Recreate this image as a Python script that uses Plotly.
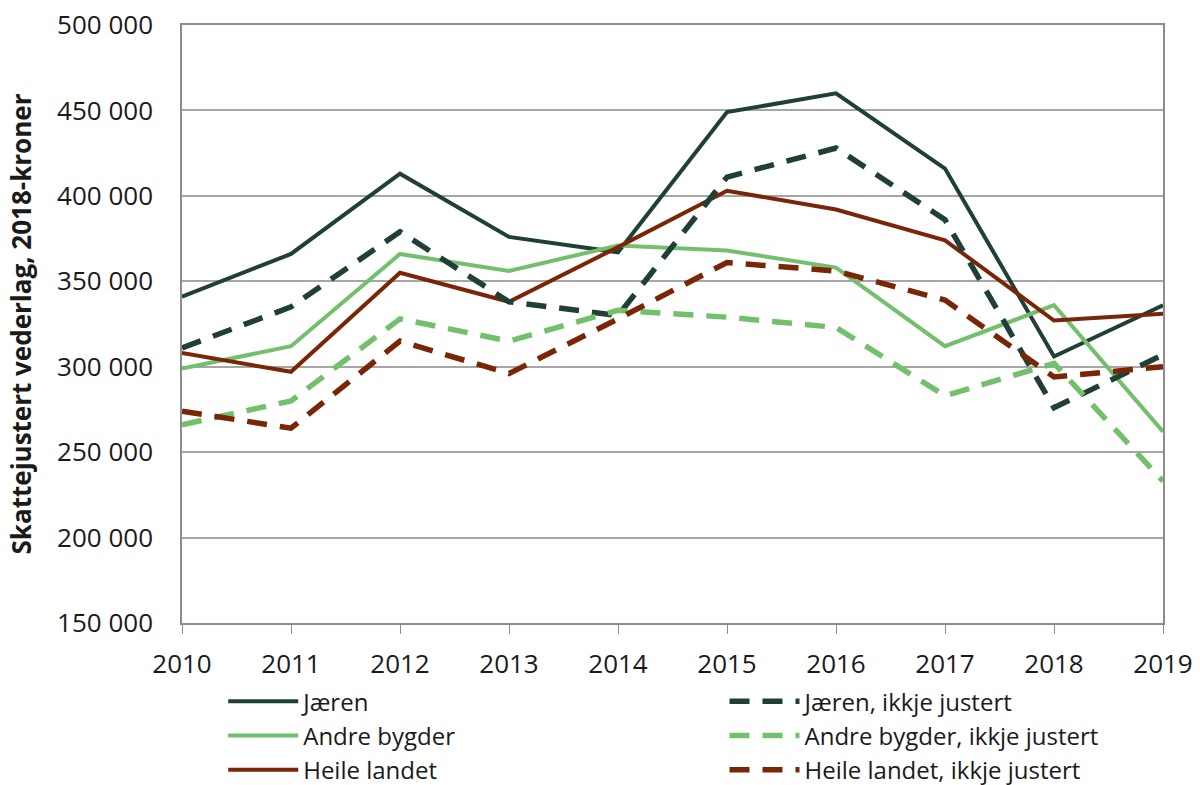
import plotly.graph_objects as go

years = [2010, 2011, 2012, 2013, 2014, 2015, 2016, 2017, 2018, 2019]

jaeren = [341000, 366000, 413000, 376000, 367000, 449000, 460000, 416000, 306000, 336000]
jaeren_ikkje = [311000, 335000, 379000, 338000, 330000, 411000, 428000, 386000, 276000, 307000]
andre = [299000, 312000, 366000, 356000, 371000, 368000, 358000, 312000, 336000, 262000]
andre_ikkje = [266000, 280000, 328000, 315000, 333000, 329000, 323000, 283000, 302000, 233000]
heile = [308000, 297000, 355000, 338000, 370000, 403000, 392000, 374000, 327000, 331000]
heile_ikkje = [274000, 264000, 315000, 296000, 328000, 361000, 356000, 339000, 294000, 300000]

names = ["Jæren", "Jæren, ikkje justert", "Andre bygder", "Andre bygder, ikkje justert",
         "Heile landet", "Heile landet, ikkje justert"]

y_ticks = [150000, 200000, 250000, 300000, 350000, 400000, 450000, 500000]
y_tick_labels = ["150 000", "200 000", "250 000", "300 000", "350 000", "400 000", "450 000", "500 000"]

c_jaeren = "#1f3f37"
c_andre = "#72c06c"
c_heile = "#7a2606"

DASH = "20px,13px"
series = [
    (names[0], jaeren, c_jaeren, "solid", 4, "legend"),
    (names[2], andre, c_andre, "solid", 4, "legend"),
    (names[4], heile, c_heile, "solid", 4, "legend"),
    (names[1], jaeren_ikkje, c_jaeren, DASH, 5.5, "legend2"),
    (names[3], andre_ikkje, c_andre, DASH, 5.5, "legend2"),
    (names[5], heile_ikkje, c_heile, DASH, 5.5, "legend2"),
]

fig = go.Figure()
for name, vals, color, dash, w, lg in series:
    fig.add_trace(go.Scatter(
        x=years, y=vals, name=name, mode="lines", legend=lg, legendgroup=name,
        line=dict(color=color, width=w, dash=dash),
    ))

font_family = "'Open Sans', sans-serif"
text_color = "#1a1a1a"

legend_common = dict(
    orientation="v", yanchor="top", y=-0.094, xanchor="left",
    font=dict(size=24, family=font_family, color=text_color),
    tracegroupgap=0, itemwidth=70, bgcolor="rgba(0,0,0,0)", borderwidth=0,
)

fig.update_layout(
    width=1200, height=785,
    margin=dict(l=182, r=37, t=25, b=162, autoexpand=False),
    paper_bgcolor="white", plot_bgcolor="white",
    font=dict(family=font_family, size=26, color=text_color),
    showlegend=True,
    legend=dict(x=0.042, **legend_common),
    legend2=dict(x=0.553, **legend_common),
    xaxis=dict(
        range=[2010, 2019], tickmode="array", tickvals=years,
        ticktext=[str(y) for y in years],
        showgrid=False, showline=True, linecolor="#8c8c8c", linewidth=1.5,
        mirror=True, ticks="outside", ticklen=9, tickcolor="#8c8c8c",
        tickfont=dict(size=26), zeroline=False, automargin=False,
        ticklabelstandoff=8,
    ),
    yaxis=dict(
        range=[150000, 500000], tickmode="array", tickvals=y_ticks, ticktext=y_tick_labels,
        showgrid=True, gridcolor="#a6a6a6", gridwidth=1.5,
        showline=True, linecolor="#8c8c8c", linewidth=1.5, mirror=True,
        ticks="", tickfont=dict(size=26), zeroline=False, automargin=False,
        ticklabelstandoff=22,
        title=dict(text="<b>Skattejustert vederlag, 2018-kroner</b>",
                   font=dict(size=26, family=font_family, color=text_color), standoff=18),
    ),
)

fig.write_html("out.html", config={"displayModeBar": False},
               post_script="document.body.style.margin='0';")
